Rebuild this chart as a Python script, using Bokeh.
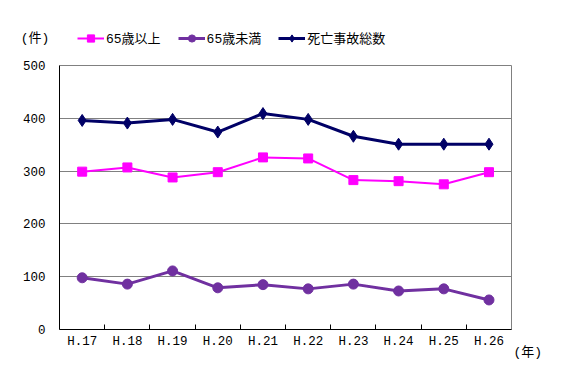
from bokeh.plotting import figure
from bokeh.models import Range1d, FixedTicker, Legend, LegendItem, Label, LinearAxis, Grid
from bokeh.embed import file_html
from bokeh.resources import INLINE

years = ["H.17", "H.18", "H.19", "H.20", "H.21", "H.22", "H.23", "H.24", "H.25", "H.26"]
over65 = [299, 307, 288, 298, 326, 324, 283, 281, 275, 298]
under65 = [98, 86, 111, 79, 85, 77, 86, 73, 77, 56]
total = [396, 391, 398, 374, 409, 398, 366, 351, 351, 351]
y_ticks = [0, 100, 200, 300, 400, 500]

FONT = "Liberation Mono, Noto Sans CJK JP"
xs = list(range(len(years)))
x_lo, x_hi = -0.5, len(years) - 0.5
y_lo, y_hi = y_ticks[0], y_ticks[-1]

# the frame fills the whole canvas; axes are pinned to the data box inside it
p = figure(width=551, height=362, output_backend="svg", toolbar_location=None,
           x_axis_location=None, y_axis_location=None,
           x_range=Range1d(-1.807, 10.383), y_range=Range1d(-62.45, 623.15),
           min_border=0, min_border_left=0, min_border_right=0,
           min_border_top=0, min_border_bottom=0)
p.frame_width = 551
p.frame_height = 362
p.outline_line_color = None
for g in p.grid:
    g.visible = False

hgrid = Grid(dimension=1, ticker=FixedTicker(ticks=y_ticks), bounds=(y_lo, y_hi),
             cross_bounds=(x_lo, x_hi), grid_line_color="#808080", grid_line_width=1)
rborder = Grid(dimension=0, ticker=FixedTicker(ticks=[x_hi]), bounds=(x_lo, x_hi),
               cross_bounds=(y_lo, y_hi), grid_line_color="#808080", grid_line_width=1)
p.add_layout(hgrid)
p.add_layout(rborder)

yaxis = LinearAxis(fixed_location=x_lo, bounds=(y_lo, y_hi), ticker=FixedTicker(ticks=y_ticks),
                   major_tick_in=0, major_tick_out=0, minor_tick_in=0, minor_tick_out=0,
                   major_tick_line_color=None, minor_tick_line_color=None,
                   axis_line_color="black", major_label_standoff=14,
                   major_label_text_font=FONT, major_label_text_font_size="12.5px",
                   major_label_text_color="black")
p.add_layout(yaxis, "left")

xaxis = LinearAxis(fixed_location=y_lo, bounds=(x_lo, x_hi),
                   ticker=FixedTicker(ticks=xs, minor_ticks=[i + 0.5 for i in xs[:-1]]),
                   major_label_overrides={i: y for i, y in enumerate(years)},
                   major_tick_in=0, major_tick_out=0, major_tick_line_color=None,
                   minor_tick_in=5, minor_tick_out=0, minor_tick_line_color="black",
                   axis_line_color="black", major_label_standoff=5,
                   major_label_text_font=FONT, major_label_text_font_size="12.5px",
                   major_label_text_color="black")
p.add_layout(xaxis, "below")

l1 = p.line(xs, over65, line_color="#FF00FF", line_width=2)
m1 = p.scatter(xs, over65, marker="square", size=9, fill_color="#FF00FF", line_color="#FF00FF")
l2 = p.line(xs, under65, line_color="#7030A0", line_width=3)
m2 = p.scatter(xs, under65, marker="circle", size=10, fill_color="#7030A0", line_color="#7030A0")
l3 = p.line(xs, total, line_color="#000066", line_width=3)
m3 = p.scatter(xs, total, marker="diamond", size=12, fill_color="#000066", line_color="#000066")

legend = Legend(items=[LegendItem(label="65歳以上", renderers=[l1, m1]),
                       LegendItem(label="65歳未満", renderers=[l2, m2]),
                       LegendItem(label="死亡事故総数", renderers=[l3, m3])],
                orientation="horizontal", location=(77, 315),
                padding=0, margin=0, spacing=17, glyph_width=27, glyph_height=18,
                label_standoff=2, border_line_color=None, background_fill_alpha=0,
                label_text_font=FONT, label_text_font_size="13px", label_text_color="black")
p.add_layout(legend, "center")

p.add_layout(Label(x=-1.36, y=551, text="(件)", text_font=FONT, text_font_size="13px",
                   text_baseline="middle", text_align="left", text_color="black"))
p.add_layout(Label(x=9.54, y=-43.6, text="(年)", text_font=FONT, text_font_size="13px",
                   text_baseline="middle", text_align="left", text_color="black"))

open("out.html", "w").write(file_html(p, INLINE))
